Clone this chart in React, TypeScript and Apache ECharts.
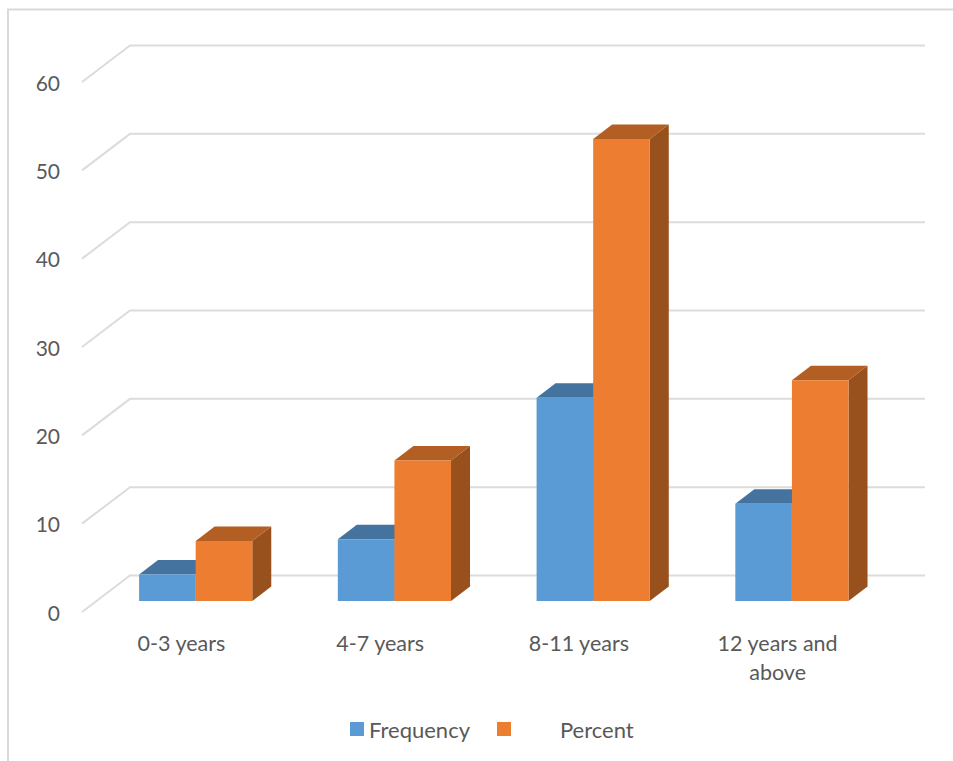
import React, { useEffect, useRef } from "react";
import * as echarts from "echarts";

const categories = ["0-3 years", "4-7 years", "8-11 years", "12 years and\nabove"];
const frequency = [3, 7, 23, 11];
const percent = [6.8, 15.9, 52.3, 25];
const yTicks = [0, 10, 20, 30, 40, 50, 60];

const FONT = "Lato";
const TEXT = "#595959";
const GRID_LINE = "#DCDCDC";

// Oblique projection of the 3D column chart, in pixels.
const WALL_DX = 48;
const WALL_DY = -36.5;
const BAR_INSET_DX = 14.3;
const BAR_INSET_DY = -11;
const BAR_WIDTH = 56.6;
const BAR_DEPTH_DX = 19;
const BAR_DEPTH_DY = -14.5;

// Each tick runs up the side wall from the front edge, then across the back wall.
const renderWallLine = (params: any, api: any) => {
  const grid = params.coordSys;
  const y = api.coord([0, api.value(1)])[1];
  return {
    type: "polyline",
    silent: true,
    shape: {
      points: [
        [grid.x, y],
        [grid.x + WALL_DX, y + WALL_DY],
        [grid.x + grid.width + WALL_DX, y + WALL_DY],
      ],
    },
    style: { stroke: GRID_LINE, lineWidth: 2, fill: "none" },
  };
};

// A column with front, top and side faces; slot -1 sits left of the band's centre, 0 right of it.
const columnRenderer = (slot: number, front: string, top: string, side: string) => (_: any, api: any) => {
  const idx = api.value(0);
  const [cx, topY] = api.coord([idx, api.value(1)]);
  const baseY = api.coord([idx, 0])[1];
  const x0 = cx + BAR_INSET_DX + slot * BAR_WIDTH;
  const x1 = x0 + BAR_WIDTH;
  const y0 = topY + BAR_INSET_DY;
  const y1 = baseY + BAR_INSET_DY;
  const dx = BAR_DEPTH_DX;
  const dy = BAR_DEPTH_DY;
  return {
    type: "group",
    children: [
      {
        type: "polygon",
        shape: { points: [[x1, y0], [x1 + dx, y0 + dy], [x1 + dx, y1 + dy], [x1, y1]] },
        style: { fill: side },
      },
      {
        type: "polygon",
        shape: { points: [[x0, y0], [x0 + dx, y0 + dy], [x1 + dx, y0 + dy], [x1, y0]] },
        style: { fill: top },
      },
      {
        type: "polygon",
        shape: { points: [[x0, y0], [x1, y0], [x1, y1], [x0, y1]] },
        style: { fill: front },
      },
    ],
  };
};

export default function App() {
  const ref = useRef<HTMLDivElement>(null);

  useEffect(() => {
    document.body.style.margin = "0";
    const chart = echarts.init(ref.current!, null, { renderer: "svg" });
    chart.setOption({
      animation: false,
      backgroundColor: "#FFFFFF",
      textStyle: { fontFamily: FONT },
      grid: { left: 82, top: 82, width: 795, height: 530, containLabel: false },
      xAxis: {
        type: "category",
        data: categories,
        axisLine: { show: false },
        axisTick: { show: false },
        axisLabel: {
          interval: 0,
          color: TEXT,
          fontFamily: FONT,
          fontSize: 21.5,
          lineHeight: 29,
          margin: 16,
        },
      },
      yAxis: {
        type: "value",
        min: 0,
        max: 60,
        interval: 10,
        splitLine: { show: false },
        axisLine: { show: false },
        axisTick: { show: false },
        axisLabel: { color: TEXT, fontFamily: FONT, fontSize: 21, margin: 22 },
      },
      legend: {
        left: 345,
        top: 713,
        icon: "rect",
        itemWidth: 14,
        itemHeight: 14,
        itemGap: 27,
        textStyle: { color: TEXT, fontFamily: FONT, fontSize: 22 },
        data: [
          { name: "Frequency" },
          { name: "Percent", textStyle: { padding: [0, 0, 0, 44] } },
        ],
      },
      graphic: [
        {
          type: "polyline",
          silent: true,
          shape: { points: [[8, 761], [8, 9.5], [953, 9.5]] },
          style: { stroke: "#D9D9D9", lineWidth: 2, fill: "none" },
        },
      ],
      series: [
        {
          type: "custom",
          name: "walls",
          silent: true,
          clip: false,
          renderItem: renderWallLine,
          encode: { x: 0, y: 1 },
          data: yTicks.map((t) => [0, t]),
          z: 1,
        },
        {
          type: "custom",
          name: "Frequency",
          clip: false,
          itemStyle: { color: "#5B9BD5" },
          renderItem: columnRenderer(-1, "#5B9BD5", "#44739F", "#3C6690"),
          encode: { x: 0, y: 1 },
          data: frequency.map((v, i) => [i, v]),
          z: 2,
        },
        {
          type: "custom",
          name: "Percent",
          clip: false,
          itemStyle: { color: "#ED7D31" },
          renderItem: columnRenderer(0, "#ED7D31", "#B35E22", "#98501C"),
          encode: { x: 0, y: 1 },
          data: percent.map((v, i) => [i, v]),
          z: 3,
        },
      ],
    });
    return () => chart.dispose();
  }, []);

  return <div ref={ref} style={{ position: "absolute", left: 0, top: 0, width: 953, height: 761 }} />;
}
